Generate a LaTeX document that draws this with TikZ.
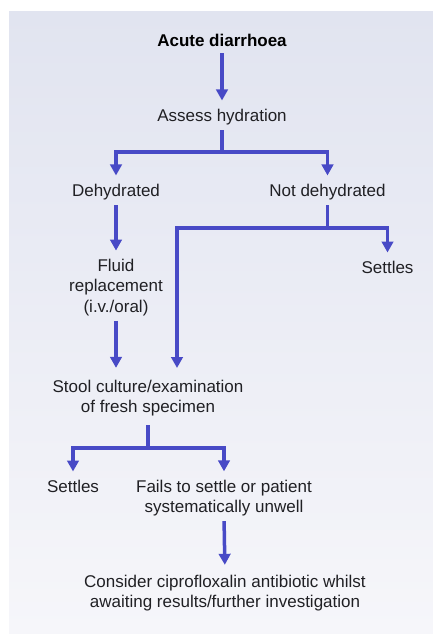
\documentclass[tikz,border=0pt]{standalone}
\usepackage{fontspec}
\setmainfont{Liberation Sans}
\usetikzlibrary{arrows.meta}

\definecolor{flowblue}{RGB}{72,74,198}
\definecolor{paneltop}{RGB}{225,228,240}
\definecolor{panelmid}{RGB}{236,237,245}
\definecolor{panelbot}{RGB}{246,246,250}
\definecolor{ink}{RGB}{32,32,36}

% strut giving every first/last line the same height and depth
\newcommand{\flowstrut}{\rule[-3.5pt]{0pt}{16pt}}

\begin{document}
\begin{tikzpicture}[x=1pt,y=-1pt,
  txt/.style={inner sep=0pt, outer sep=0pt, align=center, text=ink,
    font=\fontsize{17}{20.5}\selectfont,
    execute at begin node=\flowstrut, execute at end node=\flowstrut},
  flow/.style={draw=flowblue, line width=3.5pt, line join=miter, line cap=butt},
  arrowed/.style={flow, -{Triangle[width=11.5pt,length=11pt]}},
  fromtext/.style={shorten <=5pt},
  totext/.style={shorten >=8.5pt}]

% page and shaded panel
\fill[white] (0,0) rectangle (433,635);
\useasboundingbox (0,0) rectangle (433,635);
\shade[top color=paneltop, middle color=panelmid, bottom color=panelbot]
  (9,11) rectangle (433,633);

% texts
\node[txt, font=\fontsize{17}{20.5}\selectfont\bfseries, text=black] (acute) at (222,42) {Acute diarrhoea};
\node[txt] (assess)   at (222,117)   {Assess hydration};
\node[txt] (dehyd)    at (116,192)   {Dehydrated};
\node[txt] (notdehyd) at (327.5,192) {Not dehydrated};
\node[txt] (settlesA) at (387.5,269) {Settles};
\node[txt] (fluid)    at (116,287.5) {Fluid\\replacement\\(i.v./oral)};
\node[txt] (stool)    at (148,398)   {Stool culture/examination\\of fresh specimen};
\node[txt] (settlesB) at (73,488)    {Settles};
\node[txt] (fails)    at (224,498)   {Fails to settle or patient\\systematically unwell};
\node[txt] (consider) at (225,593)   {Consider ciprofloxalin antibiotic whilst\\awaiting results/further investigation};

% junction points of the branching connectors
\coordinate (jA) at (222,152);
\coordinate (jB) at (327.5,228);
\coordinate (jC) at (148,448);
\coordinate (stoolR) at (177,380);

% connectors
\draw[arrowed, fromtext, shorten <=3pt, totext] (acute.south) -- (assess.north);
\draw[flow, fromtext] (assess.south) -- (jA);
\draw[arrowed, totext] (jA) -| (dehyd.north);
\draw[arrowed, totext] (jA) -| (notdehyd.north);
\draw[arrowed, fromtext, totext] (dehyd.south) -- (fluid.north);
\draw[flow, fromtext] (notdehyd.south) -- (jB);
\draw[arrowed, totext] (jB) -| (settlesA.north);
\draw[arrowed, shorten >=12pt] (jB) -| (stoolR);
\draw[arrowed, fromtext, shorten >=12pt] (fluid.south) -- (fluid.south |- stool.north);
\draw[flow, shorten <=9pt] (stool.south) -- (jC);
\draw[arrowed, totext] (jC) -| (settlesB.north);
\draw[arrowed, totext] (jC) -| (fails.north);
\draw[arrowed, fromtext, shorten >=10pt] (fails.south) -- (consider.north);
\end{tikzpicture}
\end{document}
